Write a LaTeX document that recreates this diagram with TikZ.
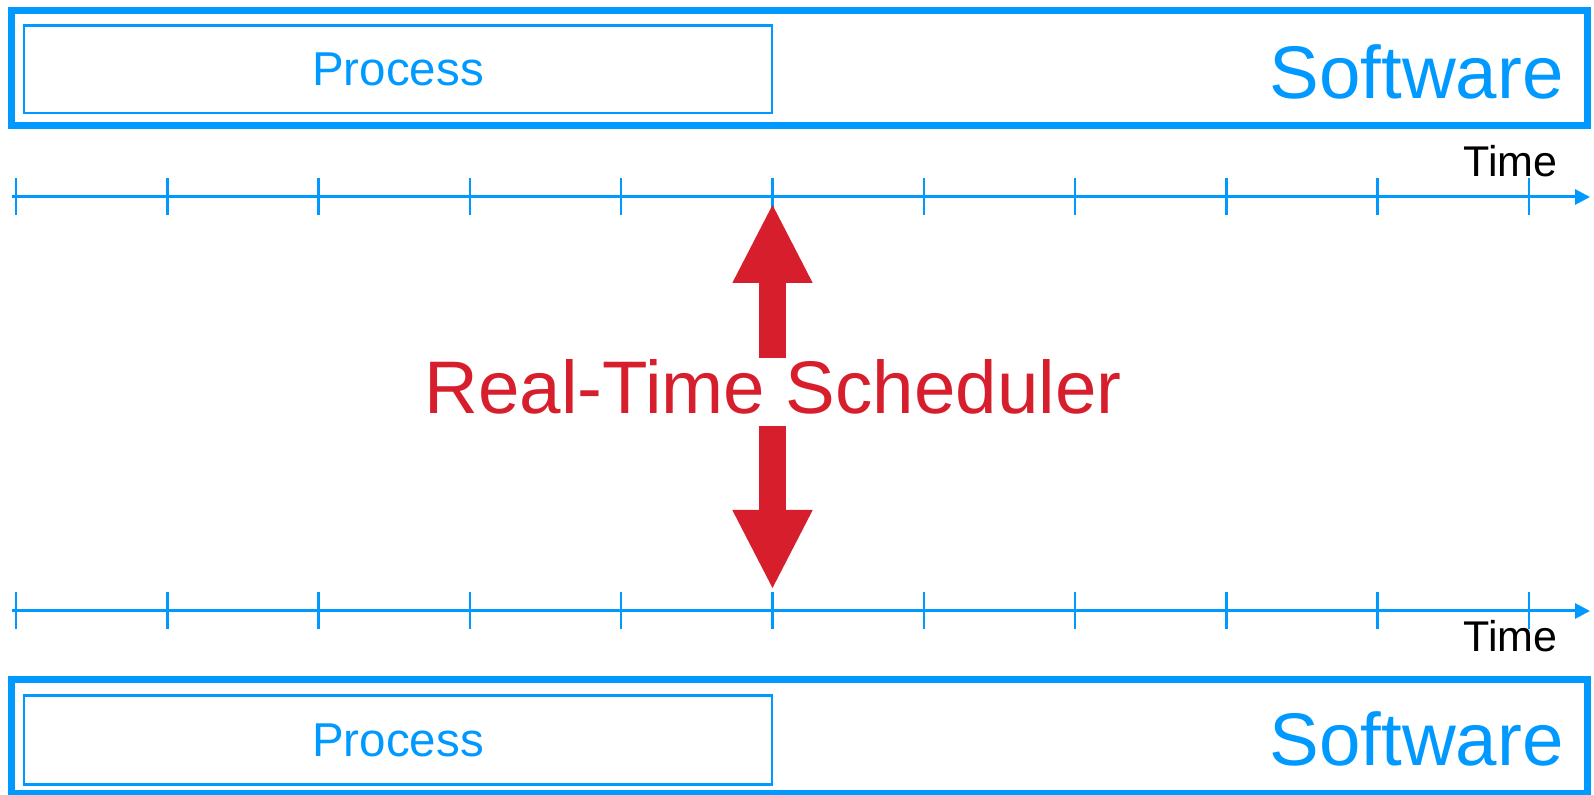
\documentclass[tikz,border=0pt]{standalone}
\usepackage{fontspec}
\setmainfont{Liberation Sans}
\usetikzlibrary{positioning,arrows.meta}
\definecolor{swblue}{HTML}{0099FF}
\definecolor{rtred}{HTML}{D71E2C}

\begin{document}
\begin{tikzpicture}[x=0.5pt,y=-0.5pt,
        swbox/.style={draw=swblue, line width=3.5pt, inner sep=0pt},
        procbox/.style={draw=swblue, line width=1.25pt, inner sep=0pt, minimum width=374pt, text=swblue, font=\fontsize{23.75pt}{28pt}\selectfont},
        swlabel/.style={text=swblue, inner sep=0pt, anchor=base east, font=\fontsize{37.25pt}{44pt}\selectfont},
        timelabel/.style={inner sep=0pt, anchor=base east, font=\fontsize{21.5pt}{26pt}\selectfont},
        axis/.style={draw=swblue, line width=1.5pt, -{Triangle[length=7.5pt,width=7.5pt]}},
        tickmark/.style={draw=swblue, line width=1.25pt},
        bigarrow/.style={draw=rtred, line width=13.5pt, {Triangle[length=40pt,width=37pt]}-{Triangle[length=40pt,width=37pt]}},
        rtlabel/.style={fill=white, text=rtred, anchor=base, inner xsep=2pt, inner ysep=1pt, text depth=5pt, font=\fontsize{37.25pt}{44pt}\selectfont}
    ]
    \useasboundingbox (0,0) rectangle (1594,795);

    % Upper software box
    \node[swbox, minimum width=788pt, minimum height=57.5pt] (swtop) at (799.5,68.5) {};
    \node[procbox, minimum height=43.75pt] (proctop) at (398,69.25) {Process};
    \node[swlabel] (swltop) at (1564,98.5) {Software};

    % Lower software box
    \node[swbox, minimum width=788pt, minimum height=57pt] (swbot) at (799.5,736) {};
    \node[procbox, minimum height=44.5pt] (procbot) at (398,740) {Process};
    \node[swlabel] (swlbot) at (1564,765) {Software};

    % Time axes
    \coordinate (axtops) at (12,197);
    \coordinate (axtope) at (1590,197);
    \coordinate (axbots) at (12,611);
    \coordinate (axbote) at (1590,611);
    \draw[axis] (axtops) -- (axtope);
    \draw[axis] (axbots) -- (axbote);
    \foreach \i in {0,...,10} {
        \coordinate (a\i) at (16+151.3*\i,197);
        \coordinate (b\i) at (16+151.3*\i,611);
        \draw[tickmark] ([yshift=9.25pt]a\i) -- ([yshift=-9.25pt]a\i);
        \draw[tickmark] ([yshift=9.25pt]b\i) -- ([yshift=-9.25pt]b\i);
    }
    \node[timelabel] (timetop) at (1558,177) {Time};
    \node[timelabel] (timebot) at (1558,651) {Time};

    % Scheduler
    \draw[bigarrow] ([yshift=-3pt]a5) -- ([yshift=10.5pt]b5);
    \node[rtlabel] (rts) at (773,414) {Real-Time Scheduler};
\end{tikzpicture}
\end{document}
